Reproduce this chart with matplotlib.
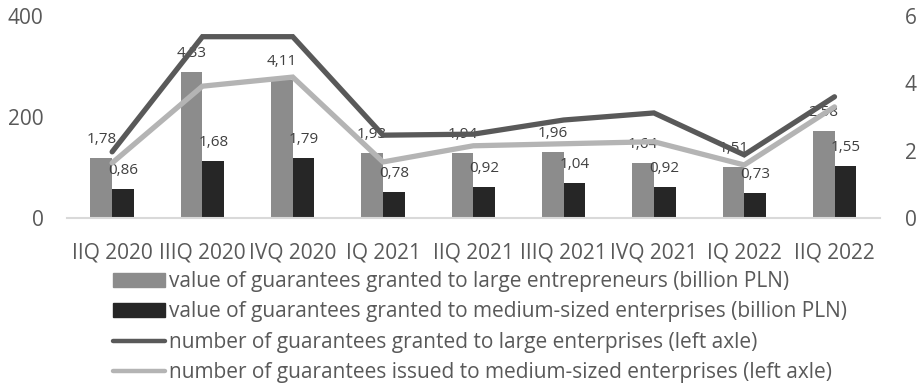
import matplotlib
matplotlib.use("Agg")
import matplotlib.pyplot as plt
from matplotlib.patches import Patch
from matplotlib.lines import Line2D
import numpy as np

quarters = ["IIQ 2020", "IIIQ 2020", "IVQ 2020", "IQ 2021", "IIQ 2021",
            "IIIQ 2021", "IVQ 2021", "IQ 2022", "IIQ 2022"]
value_large = [1.78, 4.33, 4.11, 1.93, 1.94, 1.96, 1.64, 1.51, 2.58]
value_medium = [0.86, 1.68, 1.79, 0.78, 0.92, 1.04, 0.92, 0.73, 1.55]
count_large = [131, 359, 359, 164, 166, 194, 208, 125, 240]
count_medium = [109, 261, 279, 111, 143, 147, 151, 105, 220]

plt.rcParams['font.family'] = ['Open Sans', 'DejaVu Sans']
txt = '#595959'

fig = plt.figure(figsize=(9.24, 3.87), dpi=100)
ax = fig.add_axes([0.0725, 0.4367, 0.8795, 0.522])
ax2 = ax.twinx()

x = np.arange(len(quarters))
w = 0.24
ax2.bar(x - w / 2, value_large, w, color='#8c8c8c', zorder=1)
ax2.bar(x + w / 2, value_medium, w, color='#262626', zorder=1)
ax2.set_ylim(0, 6)
ax2.set_yticks([0, 2, 4, 6])

for xi, v in zip(x - w / 2, value_large):
    ax2.annotate(f"{v:.2f}".replace('.', ','), (xi, v), xytext=(0, 8),
                 textcoords='offset points', ha='center', va='bottom',
                 fontsize=11, color='#404040', zorder=5)
for xi, v in zip(x + w / 2, value_medium):
    ax2.annotate(f"{v:.2f}".replace('.', ','), (xi, v), xytext=(0, 8),
                 textcoords='offset points', ha='center', va='bottom',
                 fontsize=11, color='#404040', zorder=5)

# lines go on the left axis, drawn above the bars
ax.set_zorder(ax2.get_zorder() + 1)
ax.patch.set_visible(False)
ax.plot(x, count_large, color='#595959', lw=3.8, solid_capstyle='round',
        solid_joinstyle='miter')
ax.plot(x, count_medium, color='#b4b4b4', lw=3.8, solid_capstyle='round',
        solid_joinstyle='miter')
ax.set_ylim(0, 400)
ax.set_yticks([0, 200, 400])
ax.set_xlim(-0.5, len(quarters) - 0.5)
ax.set_xticks(x)
ax.set_xticklabels(quarters)

for a in (ax, ax2):
    for s in a.spines.values():
        s.set_visible(False)
    a.tick_params(length=0, labelsize=15, labelcolor=txt)
ax.spines['bottom'].set_visible(True)
ax.spines['bottom'].set_color('#d9d9d9')
ax.spines['bottom'].set_linewidth(1.5)
ax.tick_params(axis='y', pad=17)
ax.tick_params(axis='x', pad=18)
ax2.tick_params(axis='y', pad=18)

handles = [
    Patch(color='#8c8c8c'),
    Patch(color='#262626'),
    Line2D([], [], color='#595959', lw=3.2, solid_capstyle='round'),
    Line2D([], [], color='#b4b4b4', lw=3.2, solid_capstyle='round'),
]
labels = [
    "value of guarantees granted to large entrepreneurs (billion PLN)",
    "value of guarantees granted to medium-sized enterprises (billion PLN)",
    "number of guarantees granted to large enterprises (left axle)",
    "number of guarantees issued to medium-sized enterprises (left axle)",
]
leg = fig.legend(handles, labels, loc='upper left', bbox_to_anchor=(0.122, 0.3),
                 frameon=False, fontsize=15, handlelength=2.5, handleheight=0.65,
                 handletextpad=0.2, labelspacing=0.45, borderpad=0, borderaxespad=0)
for t in leg.get_texts():
    t.set_color(txt)

fig.savefig('out.png', dpi=100)
